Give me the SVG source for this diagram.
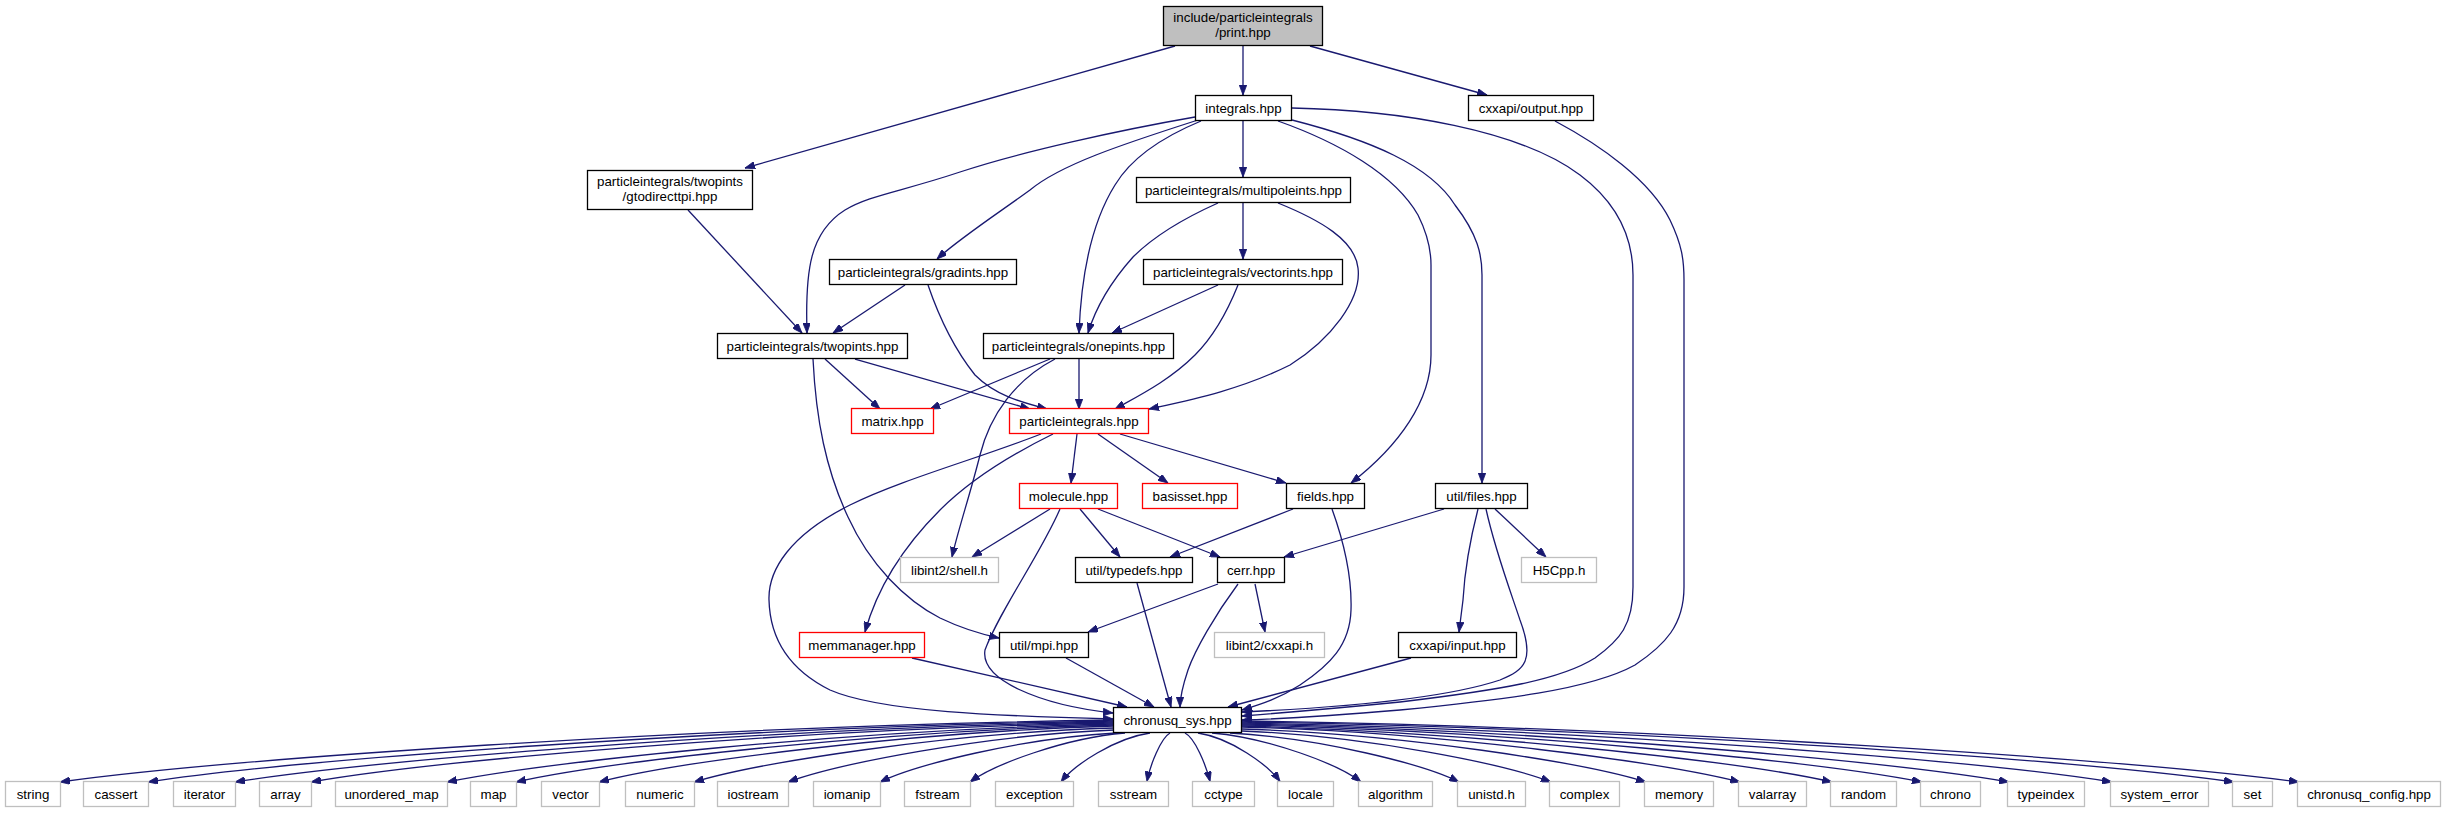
<svg xmlns="http://www.w3.org/2000/svg" width="2445" height="813" viewBox="0 0 2445 813">
<style>
rect{fill:#ffffff;stroke:#000000;stroke-width:1.3}
.root rect{fill:#bfbfbf}
.red rect{stroke:#ff0000}
.ext rect{stroke:#bfbfbf}
text{font-family:"Liberation Sans",Arial,Helvetica,sans-serif;font-size:13.33px;text-anchor:middle;fill:#000000}
#edges path{fill:none;stroke:#191970;stroke-width:1.3;marker-end:url(#arr)}
</style>
<defs>
<marker id="arr" viewBox="0 0 10 7.5" refX="10" refY="3.75" markerWidth="10" markerHeight="7.5" markerUnits="userSpaceOnUse" orient="auto">
<path d="M0,0 L10,3.75 L0,7.5 Z" fill="#191970" stroke="#191970" stroke-width="0.8"/>
</marker>
</defs>
<rect x="0" y="0" width="2445" height="813" style="fill:#ffffff;stroke:none"/>
<g id="edges">
<path d="M1175,46 L745,168"/>
<path d="M1243,46 L1243,95"/>
<path d="M1310,46 L1487,95"/>
<path d="M688,210 L802,333"/>
<path d="M1195,117 C1120,130 1020,152 960,172 C900,192 870,195 845,210 C810,232 805,270 807,333"/>
<path d="M1198,120 C1120,145 1060,165 1030,190 C1000,212 960,238 937,259"/>
<path d="M1201,121 C1160,138 1130,160 1115,185 C1090,225 1081,280 1079,333"/>
<path d="M1243,121 L1243,177"/>
<path d="M1278,121 C1340,143 1395,175 1418,215 C1428,235 1431,250 1431,265 L1431,355 C1431,400 1400,445 1351,483"/>
<path d="M1292,120 C1370,140 1430,165 1455,205 C1478,235 1482,255 1482,275 L1482,483"/>
<path d="M1292,108 C1400,110 1520,130 1580,175 C1620,205 1633,240 1633,275 L1633,587 C1633,625 1620,640 1595,658 C1560,680 1500,690 1400,702 C1330,709 1280,713 1242,716"/>
<path d="M1555,121 C1600,145 1650,180 1670,220 C1682,245 1684,260 1684,280 L1684,587 C1684,625 1665,645 1635,665 C1590,690 1500,700 1400,710 C1330,716 1280,719 1242,720"/>
<path d="M1218,203 C1180,220 1150,240 1133,257 C1108,285 1095,310 1088,333"/>
<path d="M1243,203 L1243,259"/>
<path d="M1278,203 C1320,220 1355,240 1358,268 C1362,300 1330,340 1290,365 C1240,390 1190,400 1149,409"/>
<path d="M905,285 L833,333"/>
<path d="M928,285 C940,320 955,350 975,375 C995,395 1020,402 1047,409"/>
<path d="M1218,285 L1112,333"/>
<path d="M1238,285 C1228,310 1215,335 1195,355 C1170,380 1140,395 1115,409"/>
<path d="M825,359 L880,409"/>
<path d="M855,359 L1030,409"/>
<path d="M813,359 C816,420 826,470 848,517 C870,565 905,600 940,618 C965,630 985,635 999,638"/>
<path d="M1050,359 L930,409"/>
<path d="M1079,359 L1079,409"/>
<path d="M1055,359 C1015,380 990,415 980,455 C970,495 958,530 952,557"/>
<path d="M1077,434 L1071,483"/>
<path d="M1098,434 L1168,483"/>
<path d="M1120,434 L1286,483"/>
<path d="M1053,434 C1000,460 965,485 940,510 C905,545 878,585 865,632"/>
<path d="M1041,434 C980,458 900,480 850,505 C790,535 768,570 769,600 C770,640 790,670 830,690 C880,712 1000,716 1113,719"/>
<path d="M1050,509 L972,557"/>
<path d="M1080,509 L1120,557"/>
<path d="M1098,509 L1220,557"/>
<path d="M1060,509 C1040,555 1000,610 985,650 C980,680 1040,705 1113,713"/>
<path d="M1293,509 L1170,557"/>
<path d="M1332,509 C1345,545 1352,580 1351,610 C1350,645 1330,665 1300,685 C1280,698 1262,704 1242,710"/>
<path d="M1444,509 L1284,557"/>
<path d="M1495,509 L1546,557"/>
<path d="M1478,509 C1470,540 1465,565 1463,600 L1459,632"/>
<path d="M1486,509 C1495,550 1510,590 1520,620 C1535,660 1525,670 1500,680 C1440,700 1330,708 1242,712"/>
<path d="M1137,583 L1171,707"/>
<path d="M1218,584 L1088,632"/>
<path d="M1255,584 L1265,632"/>
<path d="M1238,584 C1215,615 1195,650 1188,670 C1182,688 1180,698 1180,707"/>
<path d="M912,658 L1127,707"/>
<path d="M1066,658 L1154,707"/>
<path d="M1411,658 L1228,707"/>
<path d="M1114,720 C693,726 218,760 60,782"/>
<path d="M1114,721 C728,727 293,760 148,782"/>
<path d="M1114,722 C763,728 367,761 235,782"/>
<path d="M1114,723 C794,729 431,761 311,782"/>
<path d="M1114,724 C848,730 547,762 447,782"/>
<path d="M1114,725 C876,731 605,762 516,782"/>
<path d="M1114,726 C908,732 676,762 599,782"/>
<path d="M1114,728 C946,733 757,763 694,782"/>
<path d="M1114,730 C984,735 837,764 788,782"/>
<path d="M1116,733 C1022,738 915,765 880,782"/>
<path d="M1125,733 C1064,738 993,765 970,782"/>
<path d="M1150,733 C1115,738 1074,765 1061,782"/>
<path d="M1170,733 C1161,738 1150,765 1147,781.5"/>
<path d="M1185,733 C1195,738 1206,765 1210,781.5"/>
<path d="M1198,733 C1231,738 1268,765 1280,781.5"/>
<path d="M1212,733 C1270,738 1340,765 1361,782"/>
<path d="M1230,733 C1321,738 1426,765 1459,782"/>
<path d="M1242,731 C1366,736 1505,764 1551,782"/>
<path d="M1242,729 C1403,734 1586,763 1646,782"/>
<path d="M1242,727 C1441,732 1665,763 1740,782"/>
<path d="M1242,726 C1478,732 1744,762 1832,782"/>
<path d="M1242,725 C1514,731 1820,762 1922,782"/>
<path d="M1242,724 C1548,730 1894,762 2009,782"/>
<path d="M1242,723 C1589,729 1982,761 2112,782"/>
<path d="M1242,722 C1639,728 2085,761 2234,782"/>
<path d="M1242,721 C1664,727 2141,761 2299,782"/>
</g>
<g id="n_print" class="root"><rect x="1163.5" y="6.5" width="159" height="39"/><text x="1243" y="22">include/particleintegrals</text><text x="1243" y="37">/print.hpp</text></g>
<g id="n_integrals"><rect x="1195.5" y="95.5" width="96" height="25"/><text x="1243.5" y="112.5">integrals.hpp</text></g>
<g id="n_output"><rect x="1468.5" y="95.5" width="125" height="25"/><text x="1531" y="112.5">cxxapi/output.hpp</text></g>
<g id="n_gtodirecttpi"><rect x="587.5" y="170.5" width="165" height="39"/><text x="670" y="186">particleintegrals/twopints</text><text x="670" y="201">/gtodirecttpi.hpp</text></g>
<g id="n_multipoleints"><rect x="1136.5" y="177.5" width="214" height="25"/><text x="1243.5" y="194.5">particleintegrals/multipoleints.hpp</text></g>
<g id="n_gradints"><rect x="829.5" y="259.5" width="187" height="25"/><text x="923" y="276.5">particleintegrals/gradints.hpp</text></g>
<g id="n_vectorints"><rect x="1143.5" y="259.5" width="199" height="25"/><text x="1243" y="276.5">particleintegrals/vectorints.hpp</text></g>
<g id="n_twopints"><rect x="717.5" y="333.5" width="190" height="25"/><text x="812.5" y="350.5">particleintegrals/twopints.hpp</text></g>
<g id="n_onepints"><rect x="983.5" y="333.5" width="190" height="25"/><text x="1078.5" y="350.5">particleintegrals/onepints.hpp</text></g>
<g id="n_matrix" class="red"><rect x="851.5" y="408.5" width="82" height="25"/><text x="892.5" y="425.5">matrix.hpp</text></g>
<g id="n_particleintegrals" class="red"><rect x="1009.5" y="408.5" width="139" height="25"/><text x="1079" y="425.5">particleintegrals.hpp</text></g>
<g id="n_molecule" class="red"><rect x="1019.5" y="483.5" width="98" height="25"/><text x="1068.5" y="500.5">molecule.hpp</text></g>
<g id="n_basisset" class="red"><rect x="1142.5" y="483.5" width="95" height="25"/><text x="1190" y="500.5">basisset.hpp</text></g>
<g id="n_fields"><rect x="1286.5" y="483.5" width="78" height="25"/><text x="1325.5" y="500.5">fields.hpp</text></g>
<g id="n_files"><rect x="1435.5" y="483.5" width="92" height="25"/><text x="1481.5" y="500.5">util/files.hpp</text></g>
<g id="n_shell" class="ext"><rect x="900.5" y="557.5" width="98" height="25"/><text x="949.5" y="574.5">libint2/shell.h</text></g>
<g id="n_typedefs"><rect x="1075.5" y="557.5" width="117" height="25"/><text x="1134" y="574.5">util/typedefs.hpp</text></g>
<g id="n_cerr"><rect x="1217.5" y="557.5" width="67" height="25"/><text x="1251" y="574.5">cerr.hpp</text></g>
<g id="n_h5cpp" class="ext"><rect x="1521.5" y="557.5" width="75" height="25"/><text x="1559" y="574.5">H5Cpp.h</text></g>
<g id="n_memmanager" class="red"><rect x="799.5" y="632.5" width="125" height="25"/><text x="862" y="649.5">memmanager.hpp</text></g>
<g id="n_mpi"><rect x="999.5" y="632.5" width="89" height="25"/><text x="1044" y="649.5">util/mpi.hpp</text></g>
<g id="n_cxxapih" class="ext"><rect x="1214.5" y="632.5" width="110" height="25"/><text x="1269.5" y="649.5">libint2/cxxapi.h</text></g>
<g id="n_input"><rect x="1398.5" y="632.5" width="118" height="25"/><text x="1457.5" y="649.5">cxxapi/input.hpp</text></g>
<g id="n_sys"><rect x="1113.5" y="707.5" width="128" height="25"/><text x="1177.5" y="724.5">chronusq_sys.hpp</text></g>
<g id="n_string" class="ext"><rect x="5.5" y="781.5" width="55" height="25"/><text x="33" y="798.5">string</text></g>
<g id="n_cassert" class="ext"><rect x="83.5" y="781.5" width="65" height="25"/><text x="116" y="798.5">cassert</text></g>
<g id="n_iterator" class="ext"><rect x="173.5" y="781.5" width="62" height="25"/><text x="204.5" y="798.5">iterator</text></g>
<g id="n_array" class="ext"><rect x="259.5" y="781.5" width="52" height="25"/><text x="285.5" y="798.5">array</text></g>
<g id="n_unordered_map" class="ext"><rect x="335.5" y="781.5" width="112" height="25"/><text x="391.5" y="798.5">unordered_map</text></g>
<g id="n_map" class="ext"><rect x="470.5" y="781.5" width="46" height="25"/><text x="493.5" y="798.5">map</text></g>
<g id="n_vector" class="ext"><rect x="541.5" y="781.5" width="58" height="25"/><text x="570.5" y="798.5">vector</text></g>
<g id="n_numeric" class="ext"><rect x="625.5" y="781.5" width="69" height="25"/><text x="660" y="798.5">numeric</text></g>
<g id="n_iostream" class="ext"><rect x="717.5" y="781.5" width="71" height="25"/><text x="753" y="798.5">iostream</text></g>
<g id="n_iomanip" class="ext"><rect x="813.5" y="781.5" width="67" height="25"/><text x="847" y="798.5">iomanip</text></g>
<g id="n_fstream" class="ext"><rect x="904.5" y="781.5" width="66" height="25"/><text x="937.5" y="798.5">fstream</text></g>
<g id="n_exception" class="ext"><rect x="995.5" y="781.5" width="78" height="25"/><text x="1034.5" y="798.5">exception</text></g>
<g id="n_sstream" class="ext"><rect x="1098.5" y="781.5" width="70" height="25"/><text x="1133.5" y="798.5">sstream</text></g>
<g id="n_cctype" class="ext"><rect x="1192.5" y="781.5" width="62" height="25"/><text x="1223.5" y="798.5">cctype</text></g>
<g id="n_locale" class="ext"><rect x="1277.5" y="781.5" width="56" height="25"/><text x="1305.5" y="798.5">locale</text></g>
<g id="n_algorithm" class="ext"><rect x="1358.5" y="781.5" width="74" height="25"/><text x="1395.5" y="798.5">algorithm</text></g>
<g id="n_unistd" class="ext"><rect x="1457.5" y="781.5" width="68" height="25"/><text x="1491.5" y="798.5">unistd.h</text></g>
<g id="n_complex" class="ext"><rect x="1549.5" y="781.5" width="70" height="25"/><text x="1584.5" y="798.5">complex</text></g>
<g id="n_memory" class="ext"><rect x="1644.5" y="781.5" width="69" height="25"/><text x="1679" y="798.5">memory</text></g>
<g id="n_valarray" class="ext"><rect x="1738.5" y="781.5" width="68" height="25"/><text x="1772.5" y="798.5">valarray</text></g>
<g id="n_random" class="ext"><rect x="1830.5" y="781.5" width="66" height="25"/><text x="1863.5" y="798.5">random</text></g>
<g id="n_chrono" class="ext"><rect x="1920.5" y="781.5" width="60" height="25"/><text x="1950.5" y="798.5">chrono</text></g>
<g id="n_typeindex" class="ext"><rect x="2007.5" y="781.5" width="77" height="25"/><text x="2046" y="798.5">typeindex</text></g>
<g id="n_system_error" class="ext"><rect x="2110.5" y="781.5" width="98" height="25"/><text x="2159.5" y="798.5">system_error</text></g>
<g id="n_set" class="ext"><rect x="2232.5" y="781.5" width="40" height="25"/><text x="2252.5" y="798.5">set</text></g>
<g id="n_chronusq_config" class="ext"><rect x="2297.5" y="781.5" width="143" height="25"/><text x="2369" y="798.5">chronusq_config.hpp</text></g>
</svg>
